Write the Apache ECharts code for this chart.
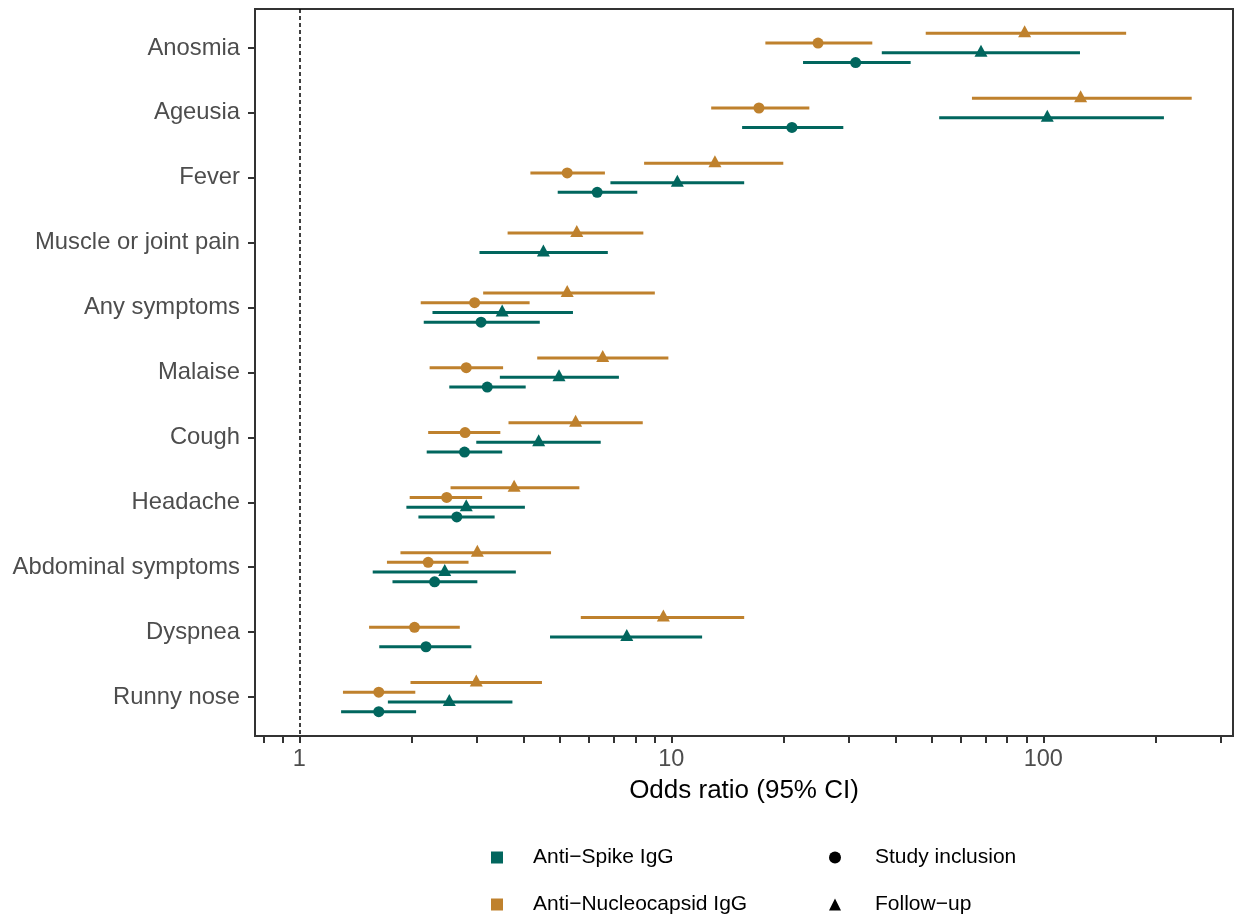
<!DOCTYPE html>
<html>
<head>
<meta charset="utf-8">
<script src="https://cdn.jsdelivr.net/npm/echarts@6/dist/echarts.min.js"></script>
<style>
html,body{margin:0;padding:0;background:#fff;}
#chart{width:1242px;height:915px;}
</style>
</head>
<body>
<div id="chart"></div>
<script>
// ---- data ----
const categories = ['Anosmia','Ageusia','Fever','Muscle or joint pain','Any symptoms','Malaise','Cough','Headache','Abdominal symptoms','Dyspnea','Runny nose'];

// Anti-Nucleocapsid IgG, Follow-up
const ncFollowEst = [89.1, 126, 13.1, 5.57, 5.25, 6.54, 5.53, 3.78, 3.01, 9.52, 2.99];
const ncFollowLo  = [48.3, 64.3, 8.45, 3.63, 3.12, 4.36, 3.65, 2.55, 1.87, 5.71, 1.99];
const ncFollowHi  = [167, 250.6, 20.0, 8.41, 9.03, 9.82, 8.38, 5.66, 4.75, 15.7, 4.49];
// Anti-Nucleocapsid IgG, Study inclusion
const ncInclEst = [24.8, 17.2, 5.25, null, 2.96, 2.81, 2.79, 2.49, 2.22, 2.04, 1.635];
const ncInclLo  = [17.9, 12.8, 4.18, null, 2.12, 2.24, 2.22, 1.98, 1.72, 1.54, 1.31];
const ncInclHi  = [34.7, 23.5, 6.63, null, 4.16, 3.53, 3.47, 3.10, 2.85, 2.70, 2.05];
// Anti-Spike IgG, Follow-up
const spFollowEst = [68.0, 102.5, 10.38, 4.53, 3.51, 4.99, 4.40, 2.81, 2.46, 7.59, 2.53];
const spFollowLo  = [36.8, 52.5, 6.86, 3.05, 2.28, 3.46, 2.99, 1.94, 1.575, 4.72, 1.73];
const spFollowHi  = [125.5, 211, 15.7, 6.75, 5.44, 7.23, 6.46, 4.04, 3.82, 12.1, 3.74];
// Anti-Spike IgG, Study inclusion
const spInclEst = [31.3, 21.1, 6.32, null, 3.08, 3.20, 2.78, 2.65, 2.31, 2.19, 1.635];
const spInclLo  = [22.6, 15.5, 4.95, null, 2.16, 2.53, 2.20, 2.09, 1.78, 1.64, 1.295];
const spInclHi  = [44.0, 29.0, 8.10, null, 4.43, 4.06, 3.51, 3.35, 3.01, 2.90, 2.06];

const majorTicks = [1, 10, 100];
const minorTicks = [0.8, 0.9, 2, 3, 4, 5, 6, 7, 8, 9, 20, 30, 40, 50, 60, 70, 80, 90, 200, 300];
const xRange = [0.76, 323.6];

const antibodyNames = ['Anti\u2212Spike IgG', 'Anti\u2212Nucleocapsid IgG'];
const timeNames = ['Study inclusion', 'Follow\u2212up'];

// ---- build ----
const TEAL = '#01665E', ORANGE = '#BF812D';
const groups = [
  {est: ncFollowEst, lo: ncFollowLo, hi: ncFollowHi, color: ORANGE, follow: true},
  {est: ncInclEst,   lo: ncInclLo,   hi: ncInclHi,   color: ORANGE, follow: false},
  {est: spFollowEst, lo: spFollowLo, hi: spFollowHi, color: TEAL,   follow: true},
  {est: spInclEst,   lo: spInclLo,   hi: spInclHi,   color: TEAL,   follow: false}
];
const L = Math.log10;
const dodgeWidth = 0.6;
const barData = groups.map(() => []);
const ptData = groups.map(() => []);
categories.forEach((c, i) => {
  const present = groups.map((g, k) => g.est[i] != null ? k : -1).filter(k => k >= 0);
  const n = present.length;
  present.forEach((k, j) => {
    const y = i + (j - (n - 1) / 2) * (dodgeWidth / n);
    const g = groups[k];
    barData[k].push([L(g.lo[i]), L(g.hi[i]), y]);
    ptData[k].push([L(g.est[i]), y]);
  });
});

const series = [];
groups.forEach((g, k) => {
  series.push({
    type: 'custom',
    silent: true,
    encode: {x: [0, 1], y: 2},
    data: barData[k],
    z: 2,
    renderItem: (params, api) => {
      const y = api.value(2);
      const a = api.coord([api.value(0), y]);
      const b = api.coord([api.value(1), y]);
      return {type: 'line', shape: {x1: a[0], y1: a[1], x2: b[0], y2: b[1]},
              style: {stroke: g.color, lineWidth: 3, lineCap: 'butt'}};
    }
  });
});
groups.forEach((g, k) => {
  series.push({
    type: 'scatter',
    silent: true,
    data: ptData[k],
    z: 3,
    symbol: g.follow ? 'triangle' : 'circle',
    symbolSize: g.follow ? [13, 12] : 11,
    symbolOffset: g.follow ? [0, -2] : [0, 0],
    itemStyle: {color: g.color, opacity: 1}
  });
});
// reference line at OR = 1
series.push({
  type: 'scatter', data: [], silent: true,
  markLine: {silent: true, symbol: ['none', 'none'], label: {show: false},
    lineStyle: {type: [4, 3], color: '#000', width: 1.5},
    data: [{xAxis: L(1)}]}
});
// legend placeholders
antibodyNames.concat(timeNames).forEach(n => series.push({type: 'scatter', name: n, data: [], itemStyle: {opacity: 1}}));

const option = {
  animation: false,
  backgroundColor: '#fff',
  textStyle: {fontFamily: '"Liberation Sans", Arial, Helvetica, sans-serif'},
  grid: {left: 255, right: 9, top: 9, bottom: 179, show: true, borderColor: '#333', borderWidth: 2, backgroundColor: '#fff'},
  xAxis: {
    type: 'value', min: L(xRange[0]), max: L(xRange[1]),
    axisLine: {show: false, onZero: false},
    splitLine: {show: false},
    axisTick: {show: true, customValues: majorTicks.concat(minorTicks).map(L), length: 7, lineStyle: {color: '#333', width: 2}},
    axisLabel: {customValues: majorTicks.map(L), formatter: v => String(Math.round(Math.pow(10, v))),
      color: '#4D4D4D', fontSize: 23.5, margin: 12},
    name: 'Odds ratio (95% CI)', nameLocation: 'middle', nameGap: 42,
    nameTextStyle: {fontSize: 26, color: '#000'}
  },
  yAxis: {
    type: 'value', inverse: true, min: -0.6, max: categories.length - 1 + 0.6,
    axisLine: {show: false, onZero: false},
    splitLine: {show: false},
    axisTick: {show: true, customValues: categories.map((c, i) => i), length: 7, lineStyle: {color: '#333', width: 2}},
    axisLabel: {customValues: categories.map((c, i) => i), formatter: v => categories[Math.round(v)],
      color: '#4D4D4D', fontSize: 23.8, margin: 15}
  },
  legend: [
    {orient: 'vertical', left: 491, top: 847, padding: 0, itemWidth: 12, itemHeight: 12, itemGap: 26,
     selectedMode: false, textStyle: {fontSize: 21, color: '#000', padding: [0, 0, 0, 25]},
     data: [{name: antibodyNames[0], icon: 'rect', itemStyle: {color: TEAL, opacity: 1}},
            {name: antibodyNames[1], icon: 'rect', itemStyle: {color: ORANGE, opacity: 1}}]},
    {orient: 'vertical', left: 829, top: 847, padding: 0, itemWidth: 12, itemHeight: 12, itemGap: 26,
     selectedMode: false, textStyle: {fontSize: 21, color: '#000', padding: [0, 0, 0, 29]},
     data: [{name: timeNames[0], icon: 'circle', itemStyle: {color: '#000', opacity: 1}},
            {name: timeNames[1], icon: 'triangle', itemStyle: {color: '#000', opacity: 1}}]}
  ],
  series: series
};
const chart = echarts.init(document.getElementById('chart'), null, {renderer: 'canvas'});
chart.setOption(option);
</script>
</body>
</html>
